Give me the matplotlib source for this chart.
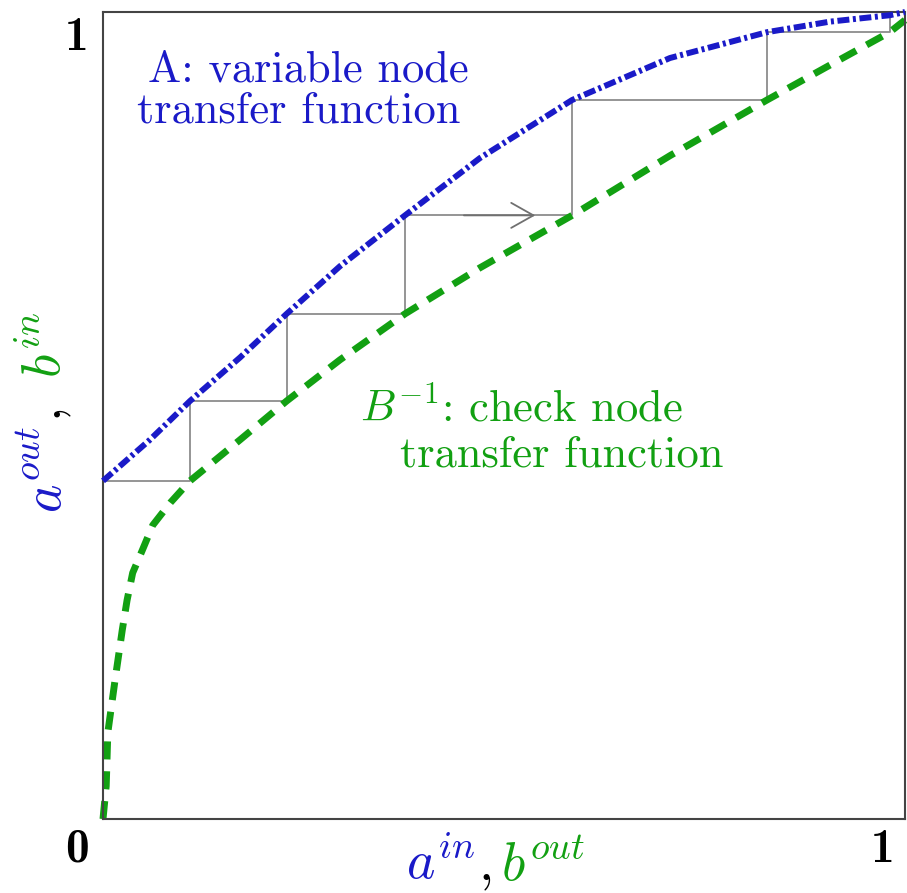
import numpy as np
import matplotlib
matplotlib.use("Agg")
from matplotlib import pyplot as plt

plt.rcParams['mathtext.fontset'] = 'cm'
plt.rcParams['font.family'] = 'cmr10'
plt.rcParams['axes.unicode_minus'] = False

# variable node transfer function A
a_x = [0.0, 0.0586, 0.1085, 0.171, 0.229, 0.2955, 0.3766, 0.470, 0.585, 0.707, 0.828, 0.906, 0.981, 1.0]
a_y = [0.419, 0.470, 0.518, 0.572, 0.626, 0.685, 0.748, 0.819, 0.891, 0.943, 0.975, 0.988, 0.996, 1.0]

# check node transfer function B^-1
b_x = [0.0, 0.004, 0.006, 0.015, 0.024, 0.030, 0.037, 0.049, 0.062, 0.084, 0.1085, 0.171, 0.229,
       0.2955, 0.3766, 0.470, 0.585, 0.707, 0.828, 0.906, 0.981, 1.0]
b_y = [0.0, 0.041, 0.107, 0.172, 0.234, 0.271, 0.305, 0.333, 0.364, 0.392, 0.419, 0.470, 0.518,
       0.569, 0.626, 0.683, 0.748, 0.822, 0.891, 0.934, 0.975, 0.990]

# decoding trajectory corners
step_x = [0.0, 0.1085, 0.229, 0.3766, 0.585, 0.828, 0.981]
step_y = [0.419, 0.518, 0.626, 0.748, 0.891, 0.975, 0.996]

blue = '#1a1ac8'
green = '#12a012'
grey = '#8c8c8c'

fig = plt.figure(figsize=(9.07, 8.93), dpi=100)
ax = fig.add_axes([103/907, 1-819/893, 802/907, 807/893])

# staircase
sx, sy = [step_x[0]], [step_y[0]]
for i in range(1, len(step_x)):
    sx += [step_x[i], step_x[i]]
    sy += [step_y[i-1], step_y[i]]
ax.plot(sx, sy, color=grey, lw=1.3, zorder=1)
ax.annotate('', xy=(0.539, step_y[3]), xytext=(0.45, step_y[3]),
            arrowprops=dict(arrowstyle='->,head_length=0.8,head_width=0.45', color='#707070',
                            lw=1.3, mutation_scale=20, shrinkA=0, shrinkB=0))

ax.plot(b_x, b_y, color=green, lw=5, dashes=(2.6, 1.7), zorder=2, clip_on=False)
ax.plot(a_x, a_y, color=blue, lw=4.3, dashes=(2.0, 0.6, 0.5, 0.6), zorder=3, clip_on=False)

ax.set_xlim(0, 1)
ax.set_ylim(0, 1)
ax.set_xticks([])
ax.set_yticks([])
for s in ax.spines.values():
    s.set_color('#444444')
    s.set_linewidth(1.5)

ax.text(0.256, 0.928, 'A: variable node', color=blue, fontsize=32,
        ha='center', va='center', transform=ax.transAxes)
ax.text(0.244, 0.877, 'transfer function', color=blue, fontsize=32,
        ha='center', va='center', transform=ax.transAxes)
ax.text(0.32, 0.507, '$B^{-1}$: check node', color=green, fontsize=32,
        ha='left', va='center', transform=ax.transAxes)
ax.text(0.37, 0.451, 'transfer function', color=green, fontsize=32,
        ha='left', va='center', transform=ax.transAxes)

# corner tick labels
fig.text(77/907, 1-38/893, '1', fontsize=34, family='cmb10', ha='center', va='center')
fig.text(77/907, 1-850/893, '0', fontsize=34, family='cmb10', ha='center', va='center')
fig.text(882/907, 1-850/893, '1', fontsize=34, family='cmb10', ha='center', va='center')

# axis labels in two colours
yb = 1-880/893
fig.text(406/907, yb, '$a^{in}$', color=blue, fontsize=39, ha='left', va='baseline')
fig.text(478/907, yb, '$,$', color='black', fontsize=39, ha='left', va='baseline')
fig.text(501/907, yb, '$b^{out}$', color=green, fontsize=39, ha='left', va='baseline')

xb = 61/907
fig.text(xb, 1-513/893, '$a^{out}$', color=blue, fontsize=39, rotation=90,
         rotation_mode='anchor', ha='left', va='baseline')
fig.text(xb, 1-422/893, '$,$', color='black', fontsize=39, rotation=90,
         rotation_mode='anchor', ha='left', va='baseline')
fig.text(xb, 1-378/893, '$b^{in}$', color=green, fontsize=39, rotation=90,
         rotation_mode='anchor', ha='left', va='baseline')

fig.savefig('out.png', dpi=100)
